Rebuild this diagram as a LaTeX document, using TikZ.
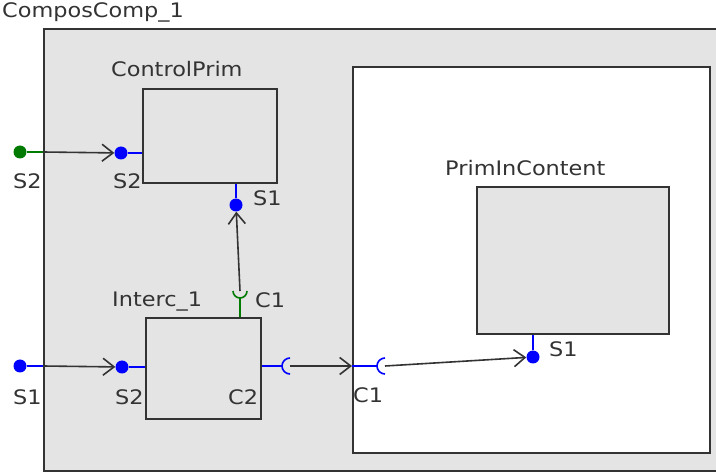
\documentclass[tikz,border=0pt]{standalone}
\usepackage{fontspec}
\setmainfont{DejaVu Sans}[FakeStretch=1.12]
\usetikzlibrary{arrows.meta,positioning}
\definecolor{boxgray}{HTML}{E4E4E4}
\definecolor{edgegray}{HTML}{333333}
\definecolor{portblue}{HTML}{0000FF}
\definecolor{portgreen}{HTML}{007A00}

\tikzset{
  compbox/.style={draw=edgegray, fill=boxgray, line width=1.8pt, rectangle, inner sep=0pt, anchor=north west},
  contentbox/.style={compbox, fill=white},
  portdot/.style={circle, fill=#1, inner sep=0pt, minimum size=13pt},
  lbl/.style={anchor=base west, inner sep=0pt, text=edgegray, font=\fontsize{20}{24}\selectfont},
  link/.style={draw=edgegray, line width=1.6pt, -{Straight Barb[length=11pt,width=17pt,line width=1.6pt]}},
  stub/.style={line width=1.6pt},
}

\begin{document}
\begin{tikzpicture}[x=1pt,y=-1pt]
  \useasboundingbox (0,0) rectangle (716,473);
  \clip (0,0) rectangle (716,473);

  % boxes
  \node[compbox, minimum width=700pt, minimum height=442pt] (outer) at (43,28) {};
  \node[contentbox, minimum width=357pt, minimum height=386pt] (content) at (352,66) {};
  \node[compbox, minimum width=134pt, minimum height=94pt] (ctrl) at (142,88) {};
  \node[compbox, minimum width=115pt, minimum height=101pt] (interc) at (145,317) {};
  \node[compbox, minimum width=192pt, minimum height=147pt] (prim) at (476,186) {};

  % ports
  \node[portdot=portgreen] (inS2) at (20,152) {};
  \draw[portgreen, stub] (inS2) -- (inS2 -| outer.west);
  \node[portdot=portblue] (inS1) at (20,366) {};
  \draw[portblue, stub] (inS1) -- (inS1 -| outer.west);
  \node[portdot=portblue] (ctrlS2) at (121,153) {};
  \draw[portblue, stub] (ctrlS2) -- (ctrlS2 -| ctrl.west);
  \node[portdot=portblue] (ctrlS1) at (236,205) {};
  \draw[portblue, stub] (ctrlS1) -- (ctrlS1 |- ctrl.south);
  \node[portdot=portblue] (intS2) at (122,367) {};
  \draw[portblue, stub] (intS2) -- (intS2 -| interc.west);
  \node[portdot=portblue] (primS1) at (533,357) {};
  \draw[portblue, stub] (primS1) -- (primS1 |- prim.south);

  % sockets
  \coordinate (intC1) at (240,291);
  \draw[portgreen, stub] (intC1 |- interc.north) -- ([yshift=-7pt]intC1);
  \draw[portgreen, stub] ([xshift=-7pt]intC1) arc[start angle=180, end angle=360, radius=7pt];
  \coordinate (intC2) at (290,366);
  \draw[portblue, stub] (intC2 -| interc.east) -- ([xshift=-8pt]intC2);
  \draw[portblue, stub] ([yshift=8pt]intC2) arc[start angle=90, end angle=270, radius=8pt];
  \coordinate (cntC1) at (385,366);
  \draw[portblue, stub] (cntC1 -| content.west) -- ([xshift=-8pt]cntC1);
  \draw[portblue, stub] ([yshift=8pt]cntC1) arc[start angle=90, end angle=270, radius=8pt];

  % connectors
  \draw[link] (inS2 -| outer.west) -- (ctrlS2);
  \draw[link] (inS1 -| outer.west) -- (intS2);
  \draw[link] (intC1) -- (ctrlS1);
  \draw[link] (intC2) -- (intC2 -| content.west);
  \draw[link] (cntC1) -- (primS1);

  % labels
  \node[lbl] (tOuter) at (2,18) {ComposComp\_1};
  \node[lbl] (tCtrl) at (111,77) {ControlPrim};
  \node[lbl] (tInterc) at (112,307) {Interc\_1};
  \node[lbl] (tPrim) at (445,176) {PrimInContent};
  \node[lbl] (lInS2) at (13,189) {S2};
  \node[lbl] (lCtrlS2) at (113,189) {S2};
  \node[lbl] (lCtrlS1) at (253,206) {S1};
  \node[lbl] (lIntC1) at (255,308) {C1};
  \node[lbl] (lInS1) at (13,405) {S1};
  \node[lbl] (lIntS2) at (115,405) {S2};
  \node[lbl] (lIntC2) at (228,405) {C2};
  \node[lbl] (lCntC1) at (353,403) {C1};
  \node[lbl] (lPrimS1) at (549,357) {S1};
\end{tikzpicture}
\end{document}
